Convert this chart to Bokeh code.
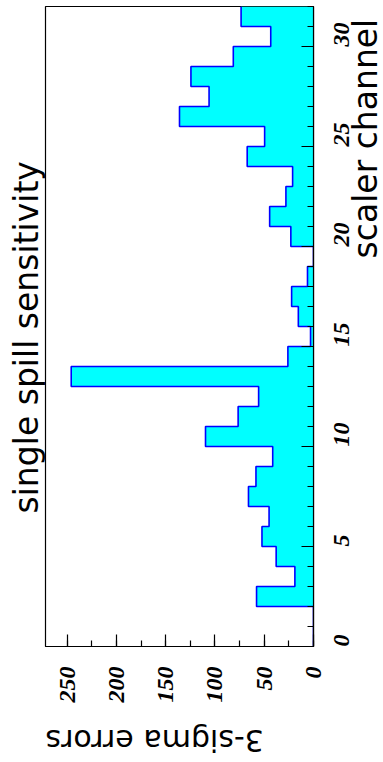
import math
from bokeh.plotting import figure
from bokeh.models import Range1d, SingleIntervalTicker, Title
from bokeh.embed import file_html
from bokeh.resources import INLINE

# ---- data ----
channel_edges_low = list(range(32))
errors = [0, 0, 57.8, 18.9, 37.9, 52.3, 45.1, 66.0, 58.4, 41.4,
          109.6, 76.5, 55.7, 245.9, 26.0, 3.0, 15.4, 22.2, 6.1, 0.0,
          23.0, 44.5, 28.0, 21.2, 67.3, 49.6, 136.0, 106.0, 124.4, 81.4,
          43.4, 73.5]
title_text = "single spill sensitivity"
xlab = "scaler channel"
ylab = "3-sigma errors"

p = figure(frame_width=268, frame_height=640, output_backend="svg",
           toolbar_location=None,
           x_range=Range1d(272, 0), y_range=Range1d(0, 32),
           x_axis_location="below", y_axis_location="right",
           min_border_left=45, min_border_right=70, min_border_top=6,
           min_border_bottom=104)
p.grid.visible = False
p.outline_line_color = "black"
p.outline_line_width = 1.2
p.background_fill_color = "white"
p.border_fill_color = "white"

# step contour of the histogram
xs = [0]
ys = [channel_edges_low[0]]
for c, v in zip(channel_edges_low, errors):
    xs += [v, v]
    ys += [c, c + 1]
p.patch(xs + [0], ys + [ys[-1]], fill_color="#00FFFF", line_color=None)
p.line(xs, ys, line_color="#0000FF", line_width=1.6)

serif = "Liberation Serif"
sans = "DejaVu Sans"
for ax in (p.xaxis[0], p.yaxis[0]):
    ax.major_label_text_font = serif
    ax.major_label_text_font_style = "bold italic"
    ax.major_label_text_font_size = "24px"
    ax.major_label_text_color = "black"
    ax.major_label_orientation = math.pi / 2
    ax.axis_line_color = "black"
    ax.axis_line_width = 1.2
    ax.major_tick_in = 12
    ax.major_tick_out = 0
    ax.minor_tick_in = 6
    ax.minor_tick_out = 0
    ax.major_tick_line_color = "black"
    ax.minor_tick_line_color = "black"
    ax.major_tick_line_width = 1.2
    ax.minor_tick_line_width = 1.2
    ax.axis_label_text_font = sans
    ax.axis_label_text_font_style = "normal"
    ax.axis_label_text_color = "black"

xa = p.xaxis[0]
ya = p.yaxis[0]
xa.ticker = SingleIntervalTicker(interval=50, num_minor_ticks=2)
xa.major_label_standoff = 20
ya.ticker = SingleIntervalTicker(interval=5, num_minor_ticks=5)
ya.major_label_standoff = 28

xa.axis_label = ylab
xa.axis_label_text_font_size = "30px"
xa.axis_label_standoff = 35
xa.axis_label_orientation = math.pi
xa.axis_label_align = "end"

# the right-axis title sits at the upper end of the axis: lead it with
# non-breaking spaces so that it starts from the bottom and reaches the top
ya.axis_label = "\u00a0" * 37 + xlab
ya.axis_label_text_font_size = "33px"
ya.axis_label_text_line_height = 1.0
ya.axis_label_standoff = 6
ya.axis_label_orientation = math.pi / 2
ya.axis_label_align = "start"

p.add_layout(Title(text=title_text, align="left", text_font=sans,
                   text_font_size="33px", text_font_style="normal",
                   text_color="black", standoff=0, offset=133), "left")

open("out.html", "w").write(file_html(p, INLINE))
